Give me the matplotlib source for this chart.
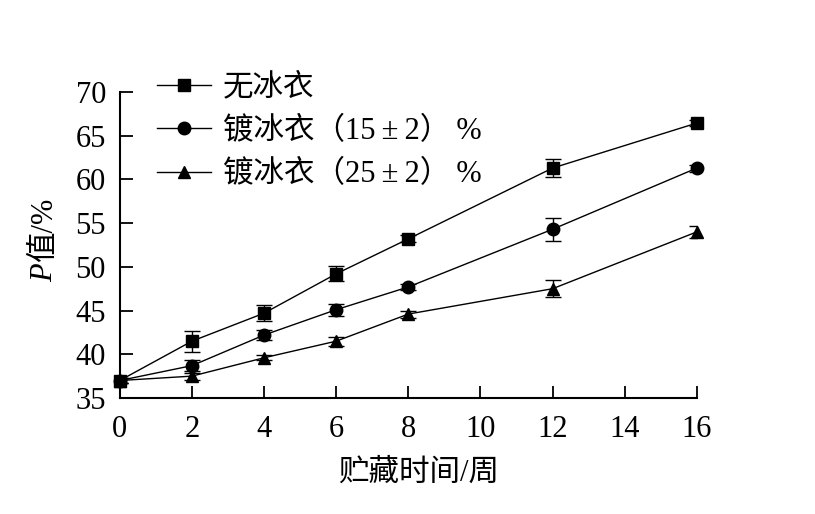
import matplotlib
matplotlib.use("Agg")
import matplotlib.pyplot as plt
import numpy as np

plt.rcParams['font.family'] = ['Liberation Serif', 'Noto Sans CJK SC', 'DejaVu Sans']

# storage weeks
weeks = [0, 2, 4, 6, 8, 12, 16]

# P value (%) and error bars
no_glaze = [37.0, 41.5, 44.7, 49.2, 53.2, 61.3, 66.45]
no_glaze_err = [0.3, 1.2, 0.9, 0.85, 0.4, 1.0, 0.3]
glaze15 = [37.0, 38.7, 42.2, 45.1, 47.7, 54.3, 61.3]
glaze15_err = [0.3, 0.6, 0.6, 0.7, 0.3, 1.3, 0.4]
glaze25 = [37.0, 37.5, 39.6, 41.5, 44.6, 47.5, 54.0]
glaze25_err = [0.3, 0.4, 0.3, 0.5, 0.4, 1.0, 0.7]

labels = ["无冰衣", "镀冰衣（15\u2009±\u20092）\u2009%", "镀冰衣（25\u2009±\u20092）\u2009%"]

fig = plt.figure(figsize=(8.15, 5.14), dpi=100)
ax = fig.add_axes([0.147, 0.2257, 0.708, 0.5953])

series = [(glaze25, glaze25_err, '^', 9),
          (glaze15, glaze15_err, 'o', 9),
          (no_glaze, no_glaze_err, 's', 8.5)]
handles = []
for vals, err, mk, ms in series:
    h = ax.errorbar(weeks, vals, yerr=err, color='black', marker=mk, markersize=ms,
                    linewidth=1, elinewidth=1, capsize=6, capthick=1)
    h[0].set_clip_on(False)
    handles.append(h[0])

ax.set_xlim(0, 16)
ax.set_ylim(35, 70)
ax.set_xticks(np.arange(0, 17, 2))
ax.set_yticks(np.arange(35, 71, 5))
ax.tick_params(direction='in', length=9, width=1.3, labelsize=22)
ax.tick_params(axis='x', pad=12)
ax.tick_params(axis='y', pad=10)
for s in ['top', 'right']:
    ax.spines[s].set_visible(False)
for s in ['left', 'bottom']:
    ax.spines[s].set_linewidth(1.5)

ax.set_xlabel("贮藏时间/周", fontsize=22, labelpad=16)
ax.xaxis.set_label_coords(0.517, -0.2)
ax.xaxis.label.set_va('top')

# y label: italic P followed by 值/%
fig.text(0.055, 0.451, "P", fontsize=22, style='italic', rotation=90,
         ha='center', va='bottom')
fig.text(0.055, 0.490, "值/%", fontsize=22, rotation=90, ha='center', va='bottom')

leg = ax.legend(handles[::-1], labels, loc='upper left', bbox_to_anchor=(0.174, 0.887),
                bbox_transform=fig.transFigure, frameon=False, fontsize=22,
                handlelength=1.75, handletextpad=0.4, labelspacing=0.47, borderpad=0)

fig.savefig("out.png", dpi=100)
